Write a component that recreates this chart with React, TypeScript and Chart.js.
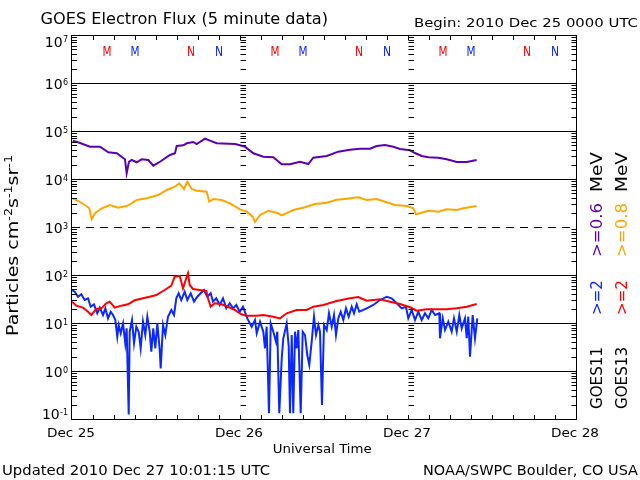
import React, { useEffect, useRef } from "react";
import { Chart, registerables } from "chart.js";

Chart.register(...registerables);

// ---- data (hours since 2010 Dec 25 00:00 UTC, particles cm^-2 s^-1 sr^-1) ----
const purpleHours = [0.1, 0.67, 2.57, 4.0, 5.19, 6.39, 7.57, 7.81, 8.14, 8.53, 9.24, 9.96, 10.9, 11.61, 12.57, 14.0, 14.71, 14.96, 15.9, 16.39, 17.33, 17.81, 19.0, 19.71, 20.67, 23.29, 24.0, 24.71, 25.9, 27.33, 28.76, 29.96, 31.14, 32.57, 33.76, 34.47, 36.39, 38.04, 39.71, 41.14, 42.57, 43.53, 44.71, 45.9, 46.86, 48.29, 49.0, 49.96, 50.9, 52.33, 53.53, 54.96, 56.39, 57.81];
const purpleFlux = [66000, 62800, 49400, 49400, 37800, 36000, 27000, 13800, 24000, 26100, 23400, 27000, 26100, 19900, 24000, 33200, 36000, 51100, 52900, 58200, 61900, 56200, 72500, 65900, 58200, 56200, 52900, 49400, 36000, 30600, 29700, 21200, 21200, 24000, 21500, 29200, 31600, 38900, 42800, 44900, 44900, 51100, 53600, 49400, 44300, 41600, 36500, 31600, 29700, 29200, 27000, 23700, 23700, 26100];

const orangeHours = [0.1, 0.9, 1.86, 2.47, 2.81, 3.29, 4.24, 5.43, 6.61, 7.81, 8.53, 9.24, 10.67, 12.33, 13.53, 14.71, 15.33, 16.0, 16.47, 17.1, 17.81, 19.24, 19.61, 20.19, 21.39, 22.57, 24.0, 24.96, 25.81, 26.14, 26.86, 28.04, 29.47, 29.96, 31.61, 33.29, 34.71, 36.39, 37.81, 39.24, 40.9, 42.1, 43.53, 44.71, 46.14, 47.81, 48.76, 49.14, 50.19, 50.9, 52.33, 53.53, 54.96, 55.9, 57.81];
const orangeFlux = [4160, 3650, 3015, 2570, 1540, 2025, 2570, 3015, 2650, 2870, 3270, 3830, 4160, 4870, 6190, 7250, 8540, 6490, 9220, 6490, 5980, 5700, 3530, 4020, 3830, 3270, 2450, 2190, 1720, 1350, 1865, 2290, 2025, 1840, 2370, 2700, 3160, 3365, 3890, 4080, 4360, 3830, 4020, 3530, 3015, 2870, 2570, 1930, 2125, 2290, 2190, 2450, 2370, 2570, 2870];

const redHours = [0, 0.61, 1.57, 2.29, 2.76, 3.47, 4.19, 4.9, 5.39, 6.1, 7.04, 8.0, 8.96, 10.14, 11.1, 12.04, 13.24, 14.19, 14.67, 15.39, 15.86, 16.19, 16.57, 16.81, 17.29, 18.24, 19.19, 19.43, 19.81, 20.39, 21.33, 22.29, 23.24, 24.19, 24.9, 26.39, 27.33, 28.76, 29.71, 30.67, 32.1, 33.53, 34.47, 35.9, 37.81, 39.71, 40.9, 42.1, 44.0, 45.43, 46.86, 48.29, 49.24, 50.67, 52.1, 53.53, 54.96, 56.39, 57.81];
const redFlux = [29.2, 24.1, 21.9, 18.0, 15.4, 20.5, 21.2, 27.0, 29.2, 21.9, 24.1, 25.7, 31.2, 34.3, 37.0, 40.2, 51.1, 62.8, 96.7, 101, 55.4, 78.7, 114, 64.9, 53.6, 51.1, 48.7, 34.3, 22.9, 27.0, 25.7, 22.9, 19.6, 15.9, 14.9, 14.9, 15.4, 14.2, 13.1, 16.7, 19.6, 19.6, 22.9, 24.9, 30.1, 34.3, 36.5, 30.6, 32.7, 29.2, 26.1, 22.3, 18.9, 20.2, 20.2, 20.2, 21.2, 22.9, 26.1];

const blueHours = [0, 0.39, 0.86, 1.33, 1.81, 2.29, 2.67, 3.14, 3.61, 3.96,
  4.43, 4.76, 5.14, 5.53, 5.86, 6.19, 6.47, 6.67, 6.96, 7.29,
  7.61, 7.81, 8.1, 8.24, 8.57, 8.86, 9.19, 9.53, 9.81, 10.14,
  10.47, 10.76, 11.1, 11.33, 11.61, 11.9, 12.19, 12.53, 12.67, 13.0,
  13.33, 13.71, 14.19, 14.57, 14.9, 15.24, 15.61, 16.1, 16.47, 16.96,
  17.43, 17.9, 18.39, 18.86, 19.33, 19.81, 20.14, 20.61, 21.1, 21.57,
  22.04, 22.53, 23.0, 23.47, 23.96, 24.43, 25.04, 25.67, 26.14, 26.39,
  26.86, 27.33, 27.57, 27.81, 28.14, 28.39, 28.76, 29.14, 29.33, 29.61,
  29.96, 30.19, 30.67, 30.96, 31.14, 31.39, 31.61, 31.86, 32.1, 32.33,
  32.67, 32.96, 33.29, 33.61, 33.9, 34.24, 34.57, 34.86, 35.19, 35.43,
  35.71, 36.0, 36.39, 36.71, 37.1, 37.43, 37.71, 38.04, 38.39, 38.76,
  39.14, 39.53, 39.96, 40.29, 40.67, 41.04, 42.1, 43.04, 44.0, 44.96,
  45.67, 46.39, 47.1, 47.71, 48.04, 48.53, 49.0, 49.47, 49.96, 50.43,
  50.9, 51.39, 51.86, 52.47, 52.57, 52.96, 53.29, 53.76, 54.24, 54.57,
  54.96, 55.33, 55.67, 56.14, 56.39, 56.61, 56.86, 57.24, 57.57, 57.9];
const blueFlux = [51.1, 47.1, 37.0, 41.6, 31.6, 34.3, 22.9, 25.7, 16.7, 21.9,
  15.4, 21.2, 13.1, 18.0, 15.4, 12.1, 5.44, 9.53, 6.40, 10.3,
  3.96, 8.13, 0.131, 6.91, 12.1, 3.96, 8.79, 6.91, 3.12, 11.2,
  5.90, 14.2, 6.91, 2.65, 8.13, 3.12, 10.3, 2.87, 1.19, 9.53,
  5.90, 14.2, 19.6, 15.4, 34.3, 43.6, 31.6, 47.1, 31.6, 43.6,
  29.2, 37.0, 43.6, 51.1, 37.0, 43.6, 29.2, 34.3, 24.9, 34.3,
  21.2, 27.0, 21.2, 24.9, 18.0, 22.9, 13.1, 8.79, 12.1, 6.40,
  11.2, 6.91, 3.12, 8.79, 0.138, 10.3, 6.91, 4.28, 6.91, 0.138,
  1.93, 5.04, 10.3, 3.37, 0.138, 5.90, 0.138, 6.91, 3.12, 7.50,
  0.138, 6.91, 5.90, 2.26, 1.40, 4.28, 14.2, 5.90, 9.53, 6.91,
  0.205, 9.53, 7.50, 16.7, 8.79, 15.4, 5.90, 13.1, 18.0, 12.1,
  21.2, 14.2, 22.9, 16.7, 25.7, 18.0, 21.2, 24.9, 31.6, 37.0,
  34.3, 27.0, 21.2, 22.9, 13.1, 19.6, 12.1, 18.0, 12.1, 16.7,
  13.1, 19.6, 15.4, 16.7, 5.04, 13.1, 7.50, 11.2, 6.91, 13.1,
  6.91, 15.4, 8.13, 13.1, 5.04, 14.2, 2.08, 15.4, 5.04, 13.1];

// ---- axis / label content ----
const yDecades = [-1, 0, 1, 2, 3, 4, 5, 6, 7];
const dashedDecade = 3;
const dayLabels = ["Dec 25", "Dec 26", "Dec 27", "Dec 28"];
const markerHours = [5, 9, 17, 21];
const markerLetters = ["M", "M", "N", "N"];
const markerDays = [0, 1, 2];

const RED = "#ff0000";
const BLUE = "#0a28ff";
const PURPLE = "#5c00b4";
const ORANGE = "#ffa500";
const FONT = "'DejaVu Sans', sans-serif";

function pts(h: number[], v: number[]) {
  return h.map((x, i) => ({ x, y: v[i] }));
}

function fitText(ctx: CanvasRenderingContext2D, text: string, x: number, y: number, width: number, size: number, color: string, align: "left" | "center" | "right" = "left", rotate = false) {
  ctx.save();
  ctx.font = `${size}px ${FONT}`;
  const w = ctx.measureText(text).width;
  ctx.translate(x, y);
  if (rotate) ctx.rotate(-Math.PI / 2);
  ctx.scale(width / w, 1);
  ctx.fillStyle = color;
  ctx.textBaseline = "alphabetic";
  ctx.textAlign = "left";
  const dx = align === "left" ? 0 : align === "center" ? -w / 2 : -w;
  ctx.fillText(text, dx, 0);
  ctx.restore();
}

const framePlugin = {
  id: "goesFrame",
  beforeDraw(chart: any) {
    const ctx = chart.ctx;
    ctx.save();
    ctx.fillStyle = "#ffffff";
    ctx.fillRect(0, 0, chart.width, chart.height);
    ctx.restore();
  },
  beforeDatasetsDraw(chart: any) {
    const ctx: CanvasRenderingContext2D = chart.ctx;
    const { left, right } = chart.chartArea;
    const ys = chart.scales.y;
    ctx.save();
    ctx.strokeStyle = "#000";
    ctx.lineWidth = 1;
    yDecades.forEach((e) => {
      if (e === -1 || e === 7) return;
      const y = Math.round(ys.getPixelForValue(Math.pow(10, e))) - 0.5;
      ctx.setLineDash(e === dashedDecade ? [8, 6] : []);
      ctx.beginPath();
      ctx.moveTo(left, y);
      ctx.lineTo(right, y);
      ctx.stroke();
    });
    ctx.restore();
  },
  afterDatasetsDraw(chart: any) {
    const ctx: CanvasRenderingContext2D = chart.ctx;
    const { left, right, top, bottom } = chart.chartArea;
    const xs = chart.scales.x;
    const ys = chart.scales.y;
    ctx.save();
    ctx.strokeStyle = "#000";
    ctx.lineWidth = 1;
    ctx.setLineDash([]);
    // frame
    ctx.strokeRect(left - 0.5, top - 0.5, right - left + 1, bottom - top);
    // minor log ticks on left, right and day-boundary axes
    const tickX: [number, number][] = [[left, 5]];
    [1, 2].forEach((d) => tickX.push([Math.round(xs.getPixelForValue(d * 24)) + 0.5, 5.5]));
    tickX.push([right + 0.5, -5]);
    ctx.beginPath();
    for (let e = -1; e < 7; e++) {
      for (let m = 1; m <= 9; m++) {
        const y = Math.round(ys.getPixelForValue(m * Math.pow(10, e))) - 0.5;
        tickX.forEach(([x0, len], idx) => {
          if (m === 1 && (idx === 0 || idx === tickX.length - 1)) return;
          ctx.moveTo(x0, y);
          ctx.lineTo(x0 + len, y);
        });
      }
    }
    // time ticks every 3 hours
    for (let h = 3; h < 72; h += 3) {
      const x = Math.round(xs.getPixelForValue(h)) + 0.5;
      ctx.moveTo(x, bottom);
      ctx.lineTo(x, bottom - 5);
      ctx.moveTo(x, top);
      ctx.lineTo(x, top + 4);
    }
    ctx.stroke();
    ctx.restore();

    // y tick labels 10^n
    yDecades.forEach((e) => {
      const y = ys.getPixelForValue(Math.pow(10, e));
      const yc = Math.min(Math.max(y, top + 5.3), bottom - 6);
      const sup = String(e);
      ctx.save();
      ctx.font = `8px ${FONT}`;
      const supW = ctx.measureText(sup).width;
      ctx.fillStyle = "#000";
      ctx.textAlign = "left";
      ctx.textBaseline = "alphabetic";
      ctx.fillText(sup, 68 - supW, yc + 0.8);
      ctx.font = `14px ${FONT}`;
      ctx.textAlign = "right";
      ctx.fillText("10", 68 - supW - 0.3, yc + 5.2);
      ctx.restore();
    });

    // M / N markers
    markerDays.forEach((d) => {
      markerHours.forEach((h, i) => {
        const x = xs.getPixelForValue(d * 24 + h);
        const letter = markerLetters[i];
        fitText(ctx, letter, x, 56, letter === "M" ? 9 : 8, 13.5, i % 2 === 0 ? RED : BLUE, "center");
      });
    });

    // day labels
    dayLabels.forEach((lab, d) => {
      const x = xs.getPixelForValue(d * 24) - 1;
      fitText(ctx, lab, x, 437, 48, 13, "#000", "center");
    });
  },
  afterDraw(chart: any) {
    const ctx: CanvasRenderingContext2D = chart.ctx;
    fitText(ctx, "GOES Electron Flux (5 minute data)", 40.5, 24, 287.5, 15.5, "#000");
    fitText(ctx, "Begin: 2010 Dec 25 0000 UTC", 414, 27.3, 224, 12.5, "#000");
    fitText(ctx, "Universal Time", 272.7, 453, 99, 13, "#000");
    fitText(ctx, "Updated 2010 Dec 27 10:01:15 UTC", 2, 474.5, 268, 14, "#000");
    fitText(ctx, "NOAA/SWPC Boulder, CO USA", 423, 474.5, 215, 14, "#000");

    // rotated y-axis title with superscripts
    const pieces: [string, boolean][] = [["Particles cm", false], ["-2", true], ["s", false], ["-1", true], ["sr", false], ["-1", true]];
    ctx.save();
    let total = 0;
    const widths = pieces.map(([t, sup]) => {
      ctx.font = `${sup ? 10 : 15}px ${FONT}`;
      const w = ctx.measureText(t).width;
      total += w;
      return w;
    });
    const s = 181 / total;
    ctx.translate(18.3, 336);
    ctx.rotate(-Math.PI / 2);
    ctx.scale(s, 1);
    ctx.fillStyle = "#000";
    let u = 0;
    pieces.forEach(([t, sup], i) => {
      ctx.font = `${sup ? 10 : 15}px ${FONT}`;
      ctx.fillText(t, u, sup ? -6.6 : 0);
      u += widths[i];
    });
    ctx.restore();

    // right-hand rotated legend labels
    const col1 = 601.7;
    const col2 = 626.7;
    fitText(ctx, "GOES11", col1, 409, 62, 15, "#000", "left", true);
    fitText(ctx, ">=2", col1, 315, 35, 15, BLUE, "left", true);
    fitText(ctx, ">=0.6", col1, 257, 54, 15, PURPLE, "left", true);
    fitText(ctx, "MeV", col1, 192, 40, 15, "#000", "left", true);
    fitText(ctx, "GOES13", col2, 409, 62, 15, "#000", "left", true);
    fitText(ctx, ">=2", col2, 315, 35, 15, RED, "left", true);
    fitText(ctx, ">=0.8", col2, 257, 54, 15, ORANGE, "left", true);
    fitText(ctx, "MeV", col2, 192, 40, 15, "#000", "left", true);
  },
};

export default function App() {
  const ref = useRef<HTMLCanvasElement | null>(null);
  useEffect(() => {
    if (!ref.current) return;
    const chart = new Chart(ref.current, {
      type: "line",
      data: {
        datasets: [
          { label: "GOES13 >=2 MeV", data: pts(redHours, redFlux), borderColor: RED, borderWidth: 2, order: 1 },
          { label: "GOES11 >=2 MeV", data: pts(blueHours, blueFlux), borderColor: BLUE, borderWidth: 2, order: 2 },
          { label: "GOES11 >=0.6 MeV", data: pts(purpleHours, purpleFlux), borderColor: PURPLE, borderWidth: 2, order: 3 },
          { label: "GOES13 >=0.8 MeV", data: pts(orangeHours, orangeFlux), borderColor: ORANGE, borderWidth: 2, order: 4 },
        ],
      },
      options: {
        responsive: false,
        animation: false,
        devicePixelRatio: 1,
        layout: { padding: { left: 72, right: 64, top: 36, bottom: 60 } },
        plugins: { legend: { display: false }, tooltip: { enabled: false }, title: { display: false } },
        elements: { point: { radius: 0 }, line: { tension: 0, borderJoinStyle: "miter" } },
        scales: {
          x: { type: "linear", min: 0, max: 72, display: false },
          y: { type: "logarithmic", min: 0.1, max: 1e7, display: false },
        },
      },
      plugins: [framePlugin],
    } as any);
    return () => chart.destroy();
  }, []);
  return (
    <div style={{ position: "absolute", left: 0, top: 0, width: 640, height: 480, background: "#fff" }}>
      <canvas ref={ref} width={640} height={480} style={{ display: "block", width: 640, height: 480 }} />
    </div>
  );
}
